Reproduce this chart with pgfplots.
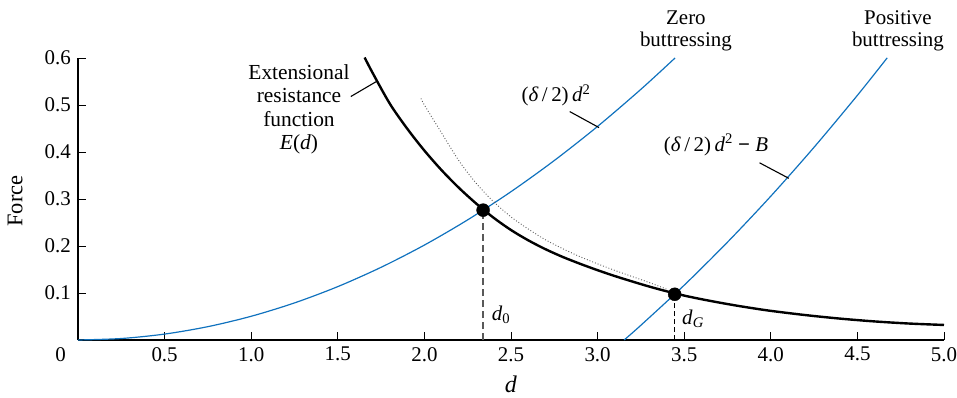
\documentclass[border=0pt]{standalone}
\usepackage{fontspec}
\setmainfont{Liberation Serif}
\usepackage{pgfplots}
\pgfplotsset{compat=1.18}
\definecolor{cblue}{RGB}{16,114,190}
\begin{document}
\fontsize{21}{24}\selectfont
\begin{tikzpicture}
\useasboundingbox (-78bp,-58bp) rectangle (879bp,340bp);
\begin{axis}[
  at={(0bp,0bp)}, anchor=south west,
  scale only axis, width=866bp, height=282bp,
  xmin=0, xmax=5, ymin=0, ymax=0.6,
  axis lines=left, axis line style={-, line width=1.1bp},
  tick align=inside, major tick length=8bp,
  tick style={line width=1bp, black},
  xtick={0.5,1,1.5,2,2.5,3,3.5,4,4.5,5},
  xticklabels={0.5,1.0,1.5,2.0,2.5,3.0,3.5,4.0,4.5,5.0},
  ytick={0.1,0.2,0.3,0.4,0.5,0.6},
  yticklabels={0.1,0.2,0.3,0.4,0.5,0.6},
  clip=false,
  xlabel={\textit{d}}, ylabel={Force},
  every axis x label/.style={at={(axis description cs:0.5,-0.158)}, anchor=center, font=\fontsize{24}{28}\selectfont},
  every axis y label/.style={at={(axis description cs:-0.0727,0.493)}, anchor=center, rotate=90, font=\fontsize{22.5}{26}\selectfont},
]
% zero buttressing parabola
\addplot[cblue, line width=1.2bp, smooth] coordinates {
(0,0)(0.25,0.00316)(0.5,0.0126)(0.75,0.0284)(1.0,0.0505)(1.25,0.0789)(1.5,0.1136)
(1.75,0.1547)(2.0,0.2020)(2.25,0.2557)(2.5,0.3156)(2.75,0.3819)(3.0,0.4545)
(3.25,0.5334)(3.447,0.600)};
% positive buttressing parabola
\addplot[cblue, line width=1.2bp, smooth] coordinates {
(3.153,0)(3.25,0.0314)(3.5,0.1166)(3.75,0.2082)(4.0,0.306)(4.25,0.4102)(4.5,0.5206)(4.672,0.6003)};
% dotted curve
\addplot[gray!70!black, line width=0.9bp, dotted, smooth] coordinates {
(1.98,0.514)(2.0,0.500)(2.1,0.440)(2.2,0.381)(2.3,0.333)(2.4,0.294)(2.5,0.262)
(2.6,0.236)(2.7,0.213)(2.8,0.194)(2.9,0.177)(3.0,0.162)(3.1,0.148)(3.2,0.135)
(3.3,0.122)(3.4,0.108)};
% extensional resistance function
\addplot[black, line width=2.4bp, smooth] coordinates {
(1.655,0.601)(1.7,0.569)(1.8,0.503)(1.9,0.450)(2.0,0.403)(2.1,0.361)(2.2,0.3235)
(2.3,0.290)(2.4,0.260)(2.5,0.234)(2.6,0.212)(2.7,0.193)(2.8,0.1765)(2.9,0.162)
(3.0,0.1485)(3.1,0.136)(3.2,0.1245)(3.3,0.1135)(3.4,0.1035)(3.5,0.0945)(3.6,0.0868)
(3.7,0.0798)(3.8,0.0733)(3.9,0.0674)(4.0,0.062)(4.2,0.053)(4.4,0.0455)(4.6,0.0395)
(4.8,0.035)(5.0,0.032)};
% drop lines
\addplot[gray!70!black, line width=1.6bp, dash pattern=on 7bp off 4bp] coordinates {(2.339,0)(2.339,0.2763)};
\addplot[black, line width=1.2bp, dash pattern=on 5bp off 3bp] coordinates {(3.445,0)(3.445,0.0973)};
% intersection points
\addplot[only marks, mark=*, mark size=6.5bp, black] coordinates {(2.339,0.2763)(3.445,0.0973)};
% leaders
\draw[line width=1.1bp] (axis cs:1.575,0.518) -- (axis cs:1.723,0.550);
\draw[line width=1.1bp] (axis cs:2.839,0.486) -- (axis cs:3.008,0.452);
\draw[line width=1.1bp] (axis cs:3.935,0.377) -- (axis cs:4.104,0.344);
% labels
\node[align=center, font=\fontsize{21.5}{23.5}\selectfont] at (axis cs:1.276,0.491) {Extensional\\resistance\\function\\\textit{E}(\textit{d})};
\node at (axis cs:2.760,0.521) {(\textit{δ}\,/\,2)\,\textit{d}\textsuperscript{2}};
\node at (axis cs:3.684,0.415) {(\textit{δ}\,/\,2)\,\textit{d}\textsuperscript{2} \textbf{−} \textit{B}};
\node[align=center, font=\fontsize{21}{22}\selectfont] at (axis cs:3.510,0.657) {Zero\\buttressing};
\node[align=center, font=\fontsize{21}{22}\selectfont] at (axis cs:4.734,0.657) {Positive\\buttressing};
\node at (axis cs:2.442,0.053) {\textit{d}\textsubscript{0}};
\node at (axis cs:3.551,0.045) {\textit{d}\textsubscript{\textit{G}}};
\node at (axis cs:-0.1,-0.032) {0};
\end{axis}
\end{tikzpicture}
\end{document}
